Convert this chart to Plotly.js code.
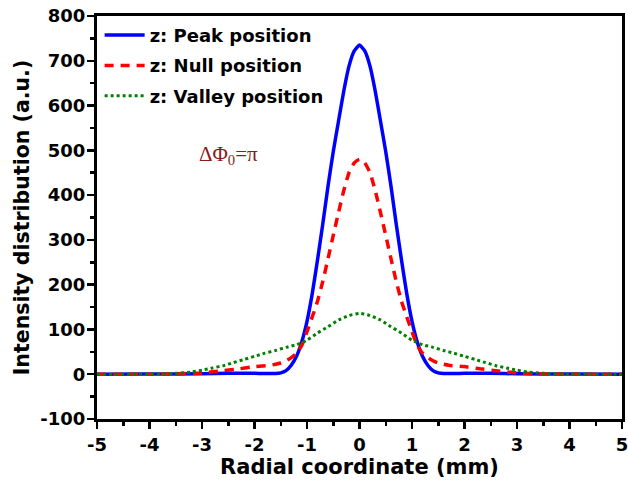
<!DOCTYPE html>
<html>
<head>
<meta charset="utf-8">
<script src="https://cdn.plot.ly/plotly-3.0.1.min.js"></script>
<style>html,body{margin:0;padding:0;background:#fff;}#chart{width:628px;height:480px;}</style>
</head>
<body>
<div id="chart"></div>
<script>
// Radial coordinate (mm) and intensity values
const peakX = [-5, -4, -3, -2.5, -2, -1.8, -1.6, -1.5, -1.4, -1.3, -1.2, -1.1, -1.0, -0.9, -0.8, -0.7, -0.6, -0.5, -0.4, -0.3, -0.2, -0.1, 0, 0.1, 0.2, 0.3, 0.4, 0.5, 0.6, 0.7, 0.8, 0.9, 1.0, 1.1, 1.2, 1.3, 1.4, 1.5, 1.6, 1.8, 2, 2.5, 3, 4, 5];
const peakY = [0, 0.5, 1, 2, 2, 1.5, 1.5, 3, 8, 20, 40, 72, 118, 180, 255, 335, 420, 497, 565, 632, 688, 722, 735, 722, 688, 632, 565, 497, 420, 335, 255, 180, 118, 72, 40, 20, 8, 3, 1.5, 1.5, 2, 2, 1, 0.5, 0];

const nullX = [-5, -4, -3.5, -3, -2.6, -2.3, -2.0, -1.7, -1.5, -1.4, -1.3, -1.2, -1.1, -1.0, -0.9, -0.8, -0.7, -0.6, -0.5, -0.4, -0.3, -0.2, -0.1, 0, 0.1, 0.2, 0.3, 0.4, 0.5, 0.6, 0.7, 0.8, 0.9, 1.0, 1.1, 1.2, 1.3, 1.4, 1.5, 1.7, 2.0, 2.3, 2.6, 3, 3.5, 4, 5];
const nullY = [0, 0, 1, 3, 8, 12, 17, 20, 25, 30, 37, 47, 64, 95, 128, 163, 207, 258, 310, 361, 410, 450, 472, 480, 472, 450, 410, 361, 310, 258, 207, 163, 128, 95, 64, 47, 37, 30, 25, 20, 17, 12, 8, 3, 1, 0, 0];

const valleyX = [-5, -4, -3.5, -3.2, -3.0, -2.8, -2.6, -2.4, -2.2, -2.0, -1.8, -1.6, -1.4, -1.2, -1.0, -0.8, -0.6, -0.4, -0.2, 0, 0.2, 0.4, 0.6, 0.8, 1.0, 1.2, 1.4, 1.6, 1.8, 2.0, 2.2, 2.4, 2.6, 2.8, 3.0, 3.2, 3.5, 4, 5];
const valleyY = [0, 0.5, 2, 5, 9, 14, 19, 26, 33, 40, 47, 53, 60, 66, 76, 92, 106, 121, 131, 136, 131, 121, 106, 92, 76, 66, 60, 53, 47, 40, 33, 26, 19, 14, 9, 5, 2, 0.5, 0];

const seriesNames = ['z: Peak position', 'z: Null position', 'z: Valley position'];
const xTickVals = [-5, -4, -3, -2, -1, 0, 1, 2, 3, 4, 5];
const yTickVals = [-100, 0, 100, 200, 300, 400, 500, 600, 700, 800];

const FAM = '"DejaVu Sans", Arial, sans-serif';
const tickFont = {family: FAM, size: 18, color: '#000', weight: 'bold'};
const legendFont = {family: FAM, size: 18, color: '#000', weight: 'bold'};

const traces = [
  {x: peakX, y: peakY, name: seriesNames[0], legendgroup: 'a', mode: 'lines', line: {color: '#0000FF', width: 3.5, shape: 'spline', smoothing: 0.5}},
  {x: nullX, y: nullY, name: seriesNames[1], legendgroup: 'b', mode: 'lines', line: {color: '#FF0000', width: 3.5, dash: '9px,7px', shape: 'spline', smoothing: 0.5}},
  {x: valleyX, y: valleyY, name: seriesNames[2], legendgroup: 'c', mode: 'lines', line: {color: '#008000', width: 3, dash: 'dot', shape: 'spline', smoothing: 0.5}}
];

const layout = {
  width: 628, height: 480,
  margin: {l: 97, r: 6, t: 16, b: 61},
  paper_bgcolor: '#fff', plot_bgcolor: '#fff',
  showlegend: true,
  legend: {x: 0.005, y: 0.998, xanchor: 'left', yanchor: 'top', bgcolor: 'rgba(0,0,0,0)', font: legendFont, traceorder: 'grouped', tracegroupgap: 4, itemwidth: 40},
  xaxis: {
    range: [-5, 5], tickvals: xTickVals, ticktext: xTickVals.map(String),
    showgrid: false, zeroline: false, showline: true, mirror: true, linecolor: '#000', linewidth: 3,
    ticks: 'outside', ticklen: 7, tickwidth: 2.5, tickcolor: '#000',
    minor: {dtick: 0.5, ticks: 'outside', ticklen: 4, tickwidth: 2.5, tickcolor: '#000'},
    tickfont: tickFont, ticklabeloverflow: 'allow',
    title: {text: 'Radial coordinate (mm)', font: {family: FAM, size: 21, color: '#000', weight: 'bold'}, standoff: 6}
  },
  yaxis: {
    range: [-100, 800], tickvals: yTickVals, ticktext: yTickVals.map(String),
    showgrid: false, zeroline: false, showline: true, mirror: true, linecolor: '#000', linewidth: 3,
    ticks: 'outside', ticklen: 7, tickwidth: 2.5, tickcolor: '#000',
    minor: {dtick: 50, ticks: 'outside', ticklen: 4, tickwidth: 2.5, tickcolor: '#000'},
    tickfont: tickFont, ticklabelstandoff: -2, ticklabeloverflow: 'allow',
    title: {text: 'Intensity distribution (a.u.)', font: {family: FAM, size: 20.5, color: '#000', weight: 'bold'}, standoff: 6}
  },
  annotations: [{
    xref: 'paper', yref: 'paper', x: 0.19, y: 0.655, xanchor: 'left', yanchor: 'middle',
    text: 'ΔΦ<sub>0</sub>=π', showarrow: false,
    font: {family: '"Liberation Serif", "Times New Roman", serif', size: 21, color: '#8B1A1A'}
  }]
};

Plotly.newPlot('chart', traces, layout, {displayModeBar: false, staticPlot: true});
</script>
</body>
</html>
